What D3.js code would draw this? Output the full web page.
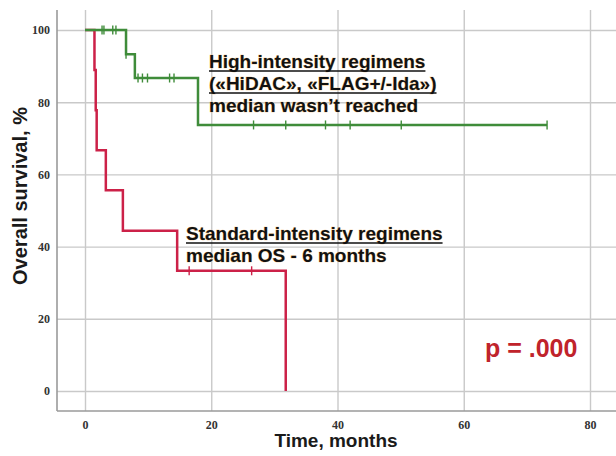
<!DOCTYPE html>
<html><head><meta charset="utf-8">
<script src="https://cdn.jsdelivr.net/npm/d3@7"></script>
<style>
html,body{margin:0;padding:0;background:#fff;}
svg{display:block;}
</style></head>
<body>
<script>
// ---- data ----
const xTicks = [0, 20, 40, 60, 80];
const yTicks = [0, 20, 40, 60, 80, 100];
const highTimes = [0, 6.5, 7.9, 17.9, 73.2];
const highSurv  = [100, 93.3, 86.7, 73.7, 73.7];
const highCensorTimes = [2.7, 3.0, 4.4, 4.9, 6.5, 8.4, 9.1, 9.9, 13.4, 14.1, 26.7, 31.8, 38.1, 42.0, 50.1, 73.2];
const highCensorSurv  = [100, 100, 100, 100, 93.3, 86.7, 86.7, 86.7, 86.7, 86.7, 73.7, 73.7, 73.7, 73.7, 73.7, 73.7];
const stdTimes = [0, 1.5, 1.7, 1.85, 3.3, 6.0, 14.6, 31.8];
const stdSurv  = [100, 88.9, 77.8, 66.7, 55.6, 44.4, 33.3, 0];
const stdCensorTimes = [16.5, 26.4];
const stdCensorSurv  = [33.3, 33.3];
const highLabel = ["High-intensity regimens", "(«HiDAC», «FLAG+/-Ida»)", "median wasn’t reached"];
const stdLabel = ["Standard-intensity regimens", "median OS - 6 months"];
const pLabel = "p = .000";
const xTitle = "Time, months";
const yTitle = "Overall survival, %";

(function () {
const W = 616, H = 456;
const pLeft = 57, pTop = 10, pBottom = 411, pRight = 616;
const svg = d3.select("body").append("svg").attr("width", W).attr("height", H);

const x = d3.scaleLinear().domain([0, 80]).range([85, 590]);
const y = d3.scaleLinear().domain([0, 100]).range([391, 30]);

const gridColor = "#c9c9c9";
// vertical grid + x labels
const gx = svg.append("g").attr("transform", `translate(0,${pBottom})`)
  .call(d3.axisBottom(x).tickValues(xTicks).tickSize(-(pBottom - pTop)).tickPadding(9).tickFormat(d3.format("d")));
gx.select(".domain").remove();
gx.selectAll(".tick line").attr("stroke", gridColor).attr("stroke-width", 1.4);
gx.selectAll(".tick text").attr("font-family", "Liberation Serif").attr("font-weight", "bold")
  .attr("font-size", 12).attr("fill", "#333");

// horizontal grid + y labels
const gy = svg.append("g").attr("transform", `translate(${pLeft},0)`)
  .call(d3.axisLeft(y).tickValues(yTicks).tickSize(0).tickPadding(7).tickFormat(d3.format("d")));
gy.select(".domain").remove();
gy.selectAll(".tick text").attr("font-family", "Liberation Serif").attr("font-weight", "bold")
  .attr("font-size", 12).attr("fill", "#333");
gy.selectAll(".tick").append("line").attr("x1", 0).attr("x2", pRight - pLeft)
  .attr("stroke", gridColor).attr("stroke-width", 1.4);

// frame
svg.append("line").attr("x1", pLeft).attr("x2", pLeft).attr("y1", pTop).attr("y2", pBottom)
  .attr("stroke", "#9a9a9a").attr("stroke-width", 1.6);
svg.append("line").attr("x1", pLeft).attr("x2", pRight).attr("y1", pBottom).attr("y2", pBottom)
  .attr("stroke", "#9a9a9a").attr("stroke-width", 1.6);

const red = "#cc2148", green = "#3f8c3a";
const line = d3.line().x(d => x(d[0])).y(d => y(d[1])).curve(d3.curveStepAfter);

function drawCurve(times, surv, cTimes, cSurv, color) {
  const pts = times.map((t, i) => [t, surv[i]]);
  svg.append("path").datum(pts).attr("d", line).attr("fill", "none")
    .attr("stroke", color).attr("stroke-width", 2.5);
  svg.append("g").selectAll("line").data(cTimes.map((t, i) => [t, cSurv[i]])).join("line")
    .attr("x1", d => x(d[0])).attr("x2", d => x(d[0]))
    .attr("y1", d => y(d[1]) - 4.5).attr("y2", d => y(d[1]) + 4.5)
    .attr("stroke", color).attr("stroke-width", 1.4);
}
drawCurve(stdTimes, stdSurv, stdCensorTimes, stdCensorSurv, red);
drawCurve(highTimes, highSurv, highCensorTimes, highCensorSurv, green);

// annotations
function label(lines, x0, y0, dy, underlineCount) {
  lines.forEach((s, i) => {
    const t = svg.append("text").attr("x", x0).attr("y", y0 + i * dy)
      .attr("font-family", "Liberation Sans").attr("font-weight", "bold").attr("font-size", 19)
      .attr("fill", "#111").attr("stroke", "#f3c27a").attr("stroke-width", 0.6)
      .attr("paint-order", "stroke").text(s);
    if (i < underlineCount) {
      const w = t.node().getComputedTextLength();
      svg.append("line").attr("x1", x0).attr("x2", x0 + w)
        .attr("y1", y0 + i * dy + 3).attr("y2", y0 + i * dy + 3)
        .attr("stroke", "#111").attr("stroke-width", 1.6);
    }
  });
}
label(highLabel, 209, 68, 22, 2);
label(stdLabel, 186, 240, 22, 1);

svg.append("text").attr("x", 485).attr("y", 357)
  .attr("font-family", "Liberation Sans").attr("font-weight", "bold").attr("font-size", 25)
  .attr("fill", "#c0232b").text(pLabel);

svg.append("text").attr("x", 336).attr("y", 447).attr("text-anchor", "middle")
  .attr("font-family", "Liberation Sans").attr("font-weight", "bold").attr("font-size", 19)
  .attr("fill", "#1a1a1a").text(xTitle);

svg.append("text").attr("transform", "translate(27,196) rotate(-90)").attr("text-anchor", "middle")
  .attr("font-family", "Liberation Sans").attr("font-weight", "bold").attr("font-size", 20)
  .attr("fill", "#1a1a1a").text(yTitle);
})();
</script>
</body></html>
